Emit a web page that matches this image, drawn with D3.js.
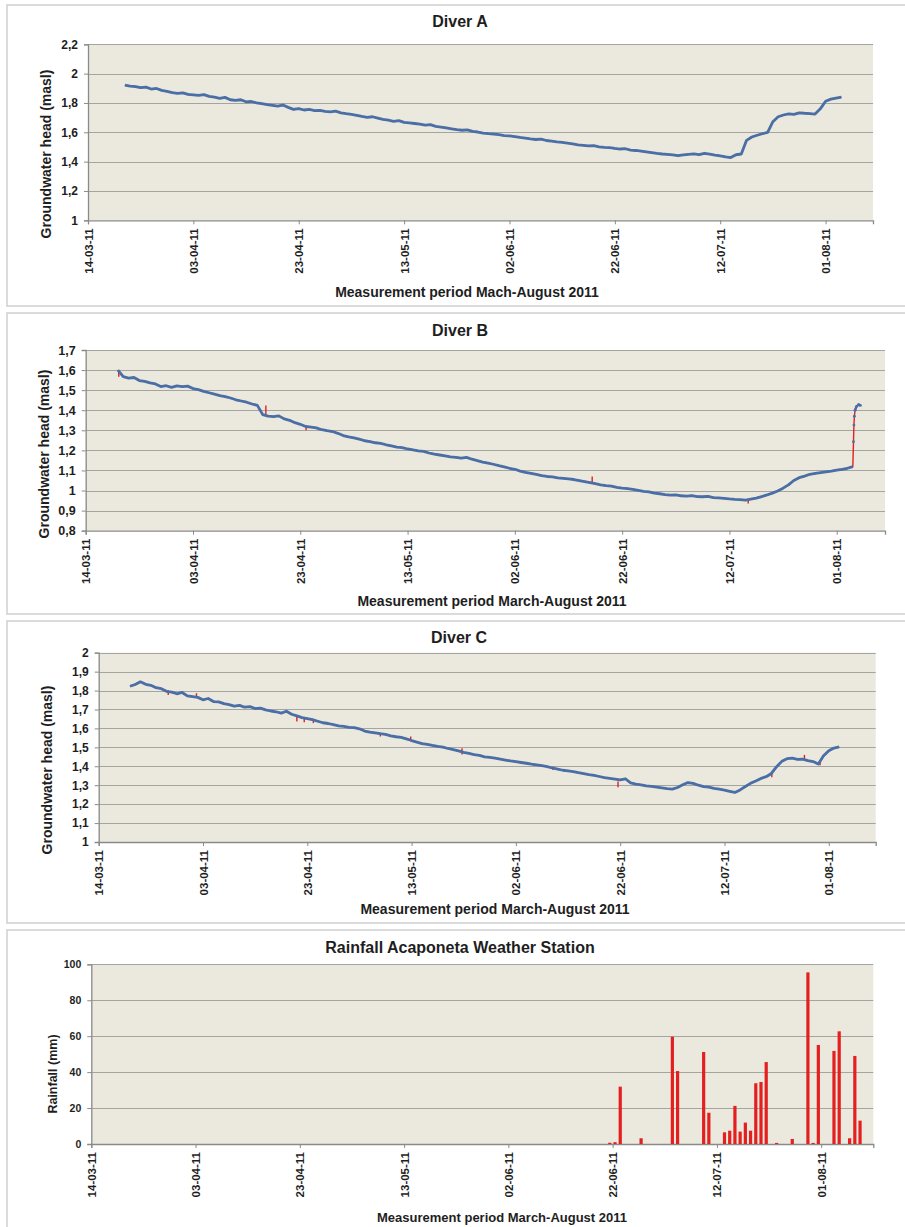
<!DOCTYPE html>
<html><head><meta charset="utf-8">
<script src="https://cdn.jsdelivr.net/npm/d3@7"></script>
<style>
body{margin:0;background:#fff;}
svg text{font-family:"Liberation Sans",Arial,sans-serif;font-weight:bold;fill:#1e1e1e;}
</style></head><body>
<svg id="chart" width="905" height="1227"></svg>
<script>
// ---------------- DATA ----------------
const dateTickLabels = ["14-03-11","03-04-11","23-04-11","13-05-11","02-06-11","22-06-11","12-07-11","01-08-11"];

const diverATicks = [1, 1.2, 1.4, 1.6, 1.8, 2, 2.2];
const diverBTicks = [0.8, 0.9, 1, 1.1, 1.2, 1.3, 1.4, 1.5, 1.6, 1.7];
const diverCTicks = [1, 1.1, 1.2, 1.3, 1.4, 1.5, 1.6, 1.7, 1.8, 1.9, 2];
const rainTicks = [0, 20, 40, 60, 80, 100];

// daily groundwater head (masl), one value per day from the start date
const diverAStart = "21-03-11";
const diverAValues = [
 1.921,1.915,1.912,1.904,1.908,1.895,1.899,1.886,1.879,1.871,1.866,1.869,1.858,1.855,1.852,1.857,
 1.845,1.840,1.832,1.838,1.822,1.818,1.822,1.808,1.810,1.801,1.795,1.789,1.784,1.779,1.786,1.770,
 1.756,1.762,1.752,1.756,1.748,1.750,1.743,1.739,1.744,1.733,1.727,1.722,1.716,1.708,1.702,1.706,
 1.697,1.688,1.683,1.675,1.679,1.668,1.664,1.660,1.655,1.649,1.652,1.640,1.636,1.630,1.624,1.618,
 1.614,1.617,1.606,1.602,1.595,1.591,1.588,1.584,1.577,1.575,1.571,1.565,1.561,1.555,1.551,1.554,
 1.544,1.540,1.535,1.531,1.526,1.521,1.514,1.511,1.507,1.509,1.501,1.497,1.495,1.490,1.486,1.488,
 1.478,1.476,1.471,1.466,1.461,1.456,1.452,1.449,1.446,1.441,1.446,1.450,1.453,1.448,1.457,1.451,
 1.445,1.440,1.433,1.428,1.447,1.452,1.545,1.568,1.580,1.590,1.600,1.672,1.706,1.718,1.726,1.722,
 1.733,1.730,1.728,1.724,1.760,1.812,1.826,1.833,1.840
];
const diverASpikes = [];

const diverBStart = "20-03-11";
const diverBValues = [
 1.600,1.567,1.560,1.563,1.548,1.544,1.536,1.531,1.518,1.522,1.514,1.521,1.518,1.520,1.508,1.503,
 1.494,1.487,1.480,1.473,1.468,1.461,1.452,1.446,1.440,1.431,1.424,1.378,1.371,1.368,1.372,1.357,
 1.350,1.338,1.330,1.319,1.316,1.312,1.303,1.298,1.294,1.285,1.274,1.267,1.262,1.256,1.248,1.244,
 1.238,1.235,1.228,1.222,1.216,1.214,1.207,1.203,1.198,1.195,1.187,1.181,1.177,1.173,1.168,1.165,
 1.161,1.165,1.156,1.149,1.142,1.137,1.131,1.124,1.118,1.111,1.106,1.097,1.090,1.086,1.080,1.074,
 1.070,1.068,1.063,1.061,1.058,1.055,1.050,1.045,1.040,1.034,1.028,1.024,1.022,1.016,1.012,1.010,
 1.006,1.001,0.996,0.993,0.987,0.984,0.980,0.977,0.978,0.974,0.972,0.975,0.970,0.969,0.971,0.965,
 0.963,0.961,0.958,0.956,0.955,0.952,0.957,0.962,0.970,0.978,0.987,0.998,1.012,1.028,1.050,1.064,
 1.072,1.081,1.085,1.089,1.093,1.097,1.102,1.106,1.111,1.119
];
// sudden rise at the end of the Diver B record (sub-daily readings)
const diverBJump = [
 ["04-08-11 03",1.243],["04-08-11 05",1.326],["04-08-11 07",1.370],["04-08-11 10",1.400],
 ["04-08-11 16",1.418],["05-08-11 02",1.428],["05-08-11 10",1.424]
];
const diverBSpikes = [
 ["20-03-11 04",1.600,1.567],["16-04-11 14",1.424,1.378],["24-04-11 02",1.318,1.300],
 ["16-06-11 10",1.040,1.070],["15-07-11 12",0.952,0.935]
];

const diverCStart = "20-03-11";
const diverCValues = [
 1.823,1.832,1.846,1.833,1.828,1.815,1.810,1.796,1.792,1.783,1.790,1.772,1.768,1.764,1.751,1.758,
 1.742,1.740,1.731,1.726,1.718,1.722,1.712,1.715,1.705,1.707,1.698,1.692,1.688,1.681,1.691,1.675,
 1.666,1.657,1.652,1.646,1.638,1.630,1.626,1.620,1.614,1.611,1.606,1.604,1.598,1.586,1.580,1.577,
 1.572,1.568,1.561,1.556,1.553,1.545,1.536,1.528,1.520,1.516,1.510,1.505,1.501,1.494,1.488,1.481,
 1.473,1.468,1.462,1.458,1.450,1.447,1.443,1.438,1.433,1.428,1.424,1.420,1.416,1.411,1.407,1.403,
 1.398,1.391,1.385,1.379,1.376,1.372,1.366,1.361,1.356,1.352,1.346,1.340,1.336,1.332,1.328,1.334,
 1.312,1.306,1.302,1.297,1.294,1.290,1.286,1.282,1.279,1.288,1.302,1.314,1.310,1.300,1.293,1.290,
 1.283,1.279,1.274,1.268,1.262,1.275,1.293,1.310,1.322,1.336,1.345,1.362,1.398,1.426,1.440,1.443,
 1.436,1.438,1.430,1.425,1.412,1.455,1.482,1.496,1.502
];
const diverCSpikes = [
 ["27-03-11 08",1.800,1.776],["01-04-11 18",1.786,1.762],["21-04-11 00",1.660,1.636],
 ["22-04-11 10",1.656,1.632],["24-04-11 04",1.650,1.628],["07-05-11 00",1.574,1.557],
 ["12-05-11 20",1.557,1.532],["22-05-11 16",1.495,1.462],["09-06-11 02",1.398,1.380],
 ["21-06-11 14",1.319,1.289],["21-07-11 02",1.370,1.342],["27-07-11 08",1.460,1.432],
 ["30-07-11 08",1.428,1.405]
];

// daily rainfall (mm), Acaponeta weather station
const rainDates = ["21-06-11","22-06-11","23-06-11","27-06-11","03-07-11","04-07-11","09-07-11","10-07-11",
 "13-07-11","14-07-11","15-07-11","16-07-11","17-07-11","18-07-11","19-07-11","20-07-11","21-07-11",
 "23-07-11","26-07-11","29-07-11","30-07-11","31-07-11","03-08-11","04-08-11","06-08-11","07-08-11","08-08-11"];
const rainValues = [0.7,1.0,31.9,3.2,59.7,40.6,51.2,17.4,
 6.5,7.4,21.2,6.9,11.9,7.4,33.8,34.5,45.6,
 0.6,2.8,95.5,0.6,55.1,51.8,62.7,3.2,49.0,13.0];

// ---------------- DRAWING ----------------
const parseDay = d3.utcParse("%d-%m-%y");
const parseHour = d3.utcParse("%d-%m-%y %H");
const fmtComma = v => String(v).replace(".", ",");
const svg = d3.select("#chart");

const BLUE = "#4a6ea6", RED = "#e3201f", BG = "#ebe8de", GRID = "#a4a4a0", AXIS = "#8a8a8a";

function daily(start, values) {
  const s = parseDay(start);
  return values.map((v, i) => ({date: d3.utcDay.offset(s, i), value: v}));
}

const panels = [
  {box:[5,306], plot:{l:88,r:873,t:44.3,b:220.3}, ticks:diverATicks, end:"10-08-11",
   title:"Diver A", titleX:460, titleY:21, xTitle:"Measurement period Mach-August 2011", xTitleX:467, xTitleY:292,
   yTitle:"Groundwater head (masl)", yTitleX:46, yTitleY:154, yFont:12,
   series: daily(diverAStart, diverAValues), spikes: diverASpikes},
  {box:[313,614], plot:{l:85.7,r:885,t:350,b:530.7}, ticks:diverBTicks, end:"10-08-11",
   title:"Diver B", titleX:460, titleY:330, xTitle:"Measurement period March-August 2011", xTitleX:492, xTitleY:601,
   yTitle:"Groundwater head (masl)", yTitleX:44, yTitleY:454, yFont:12.5,
   series: daily(diverBStart, diverBValues), spikes: diverBSpikes,
   jump: diverBJump.map(d => ({date: parseHour(d[0]), value: d[1]}))},
  {box:[621,923], plot:{l:98.7,r:875.7,t:652.7,b:842}, ticks:diverCTicks, end:"10-08-11",
   title:"Diver C", titleX:459, titleY:637, xTitle:"Measurement period March-August 2011", xTitleX:495, xTitleY:909,
   yTitle:"Groundwater head (masl)", yTitleX:47, yTitleY:770, yFont:12,
   series: daily(diverCStart, diverCValues), spikes: diverCSpikes},
  {box:[930,1240], plot:{l:91.3,r:873.3,t:964.3,b:1144}, ticks:rainTicks, end:"11-08-11",
   title:"Rainfall Acaponeta Weather Station", titleX:460, titleY:947, xTitle:"Measurement period March-August 2011", xTitleX:502, xTitleY:1217,
   yTitle:"Rainfall (mm)", yTitleX:53, yTitleY:1074, yFont:10.5, rain:true}
];

panels.forEach(p => {
  const g = svg.append("g");
  g.append("rect").attr("x", 7).attr("y", p.box[0]).attr("width", 930).attr("height", p.box[1]-p.box[0])
    .attr("fill", "#fff").attr("stroke", "#cfcfcf").attr("stroke-width", 1.5);

  const x = d3.scaleUtc().domain([parseDay("14-03-11"), parseDay(p.end)]).range([p.plot.l, p.plot.r]);
  const y = d3.scaleLinear().domain([p.ticks[0], p.ticks[p.ticks.length-1]]).range([p.plot.b, p.plot.t]);

  g.append("rect").attr("x", p.plot.l).attr("y", p.plot.t).attr("width", p.plot.r-p.plot.l)
    .attr("height", p.plot.b-p.plot.t).attr("fill", BG);

  g.append("g").selectAll("line").data(p.ticks.slice(1)).join("line")
    .attr("x1", p.plot.l).attr("x2", p.plot.r)
    .attr("y1", d => Math.round(y(d))+0.5).attr("y2", d => Math.round(y(d))+0.5)
    .attr("stroke", GRID).attr("stroke-width", 1.2);

  const ya = g.append("g").attr("transform", `translate(${p.plot.l},0)`)
    .call(d3.axisLeft(y).tickValues(p.ticks).tickFormat(fmtComma).tickSize(4).tickPadding(6));
  ya.select(".domain").attr("stroke", AXIS).attr("stroke-width", 1.3);
  ya.selectAll(".tick line").attr("stroke", AXIS);
  ya.selectAll(".tick text").attr("font-size", p.yFont).attr("fill", "#1e1e1e");

  const xa = g.append("g").attr("transform", `translate(0,${p.plot.b})`)
    .call(d3.axisBottom(x).tickValues(dateTickLabels.map(parseDay)).tickFormat(d3.utcFormat("%d-%m-%y")).tickSize(4));
  xa.select(".domain").attr("stroke", AXIS).attr("stroke-width", 1.3);
  xa.selectAll(".tick line").attr("stroke", AXIS);
  xa.selectAll(".tick text").attr("font-size", 11.5).attr("fill", "#1e1e1e")
    .attr("transform", "rotate(-90)").attr("text-anchor", "end")
    .attr("x", -8).attr("y", 0).attr("dy", "0.35em");

  g.append("text").attr("x", p.titleX).attr("y", p.titleY).attr("text-anchor", "middle")
    .attr("dominant-baseline", "central").attr("font-size", 16).text(p.title);
  g.append("text").attr("x", p.xTitleX).attr("y", p.xTitleY).attr("text-anchor", "middle")
    .attr("dominant-baseline", "central").attr("font-size", p.rain ? 13 : 14).text(p.xTitle);
  g.append("text").attr("transform", `translate(${p.yTitleX},${p.yTitleY}) rotate(-90)`)
    .attr("text-anchor", "middle").attr("dominant-baseline", "central")
    .attr("font-size", p.rain ? 12.5 : 14).text(p.yTitle);

  if (p.rain) {
    const bw = 3.2;
    const rows = rainDates.map((d, i) => ({date: parseDay(d), value: rainValues[i]}));
    g.append("g").selectAll("rect").data(rows).join("rect")
      .attr("x", d => x(d3.utcHour.offset(d.date, 11)) - bw/2)
      .attr("width", bw)
      .attr("y", d => y(d.value))
      .attr("height", d => y(0) - y(d.value))
      .attr("fill", RED);
    return;
  }

  const line = d3.line().x(d => x(d.date)).y(d => y(d.value));
  const all = p.jump ? p.series.concat(p.jump) : p.series;
  g.append("path").datum(all).attr("d", line).attr("fill", "none")
    .attr("stroke", RED).attr("stroke-width", 1.4);
  g.append("g").selectAll("line").data(p.spikes).join("line")
    .attr("x1", d => x(parseHour(d[0]))).attr("x2", d => x(parseHour(d[0])))
    .attr("y1", d => y(d[1])).attr("y2", d => y(d[2]))
    .attr("stroke", RED).attr("stroke-width", 1.4);
  g.append("path").datum(p.series).attr("d", line).attr("fill", "none")
    .attr("stroke", BLUE).attr("stroke-width", 2.8).attr("stroke-linejoin", "round");
  if (p.jump) {
    g.append("path").datum(p.jump.slice(3)).attr("d", line).attr("fill", "none")
      .attr("stroke", BLUE).attr("stroke-width", 2.4);
    g.append("g").selectAll("circle").data(p.jump).join("circle")
      .attr("cx", d => x(d.date)).attr("cy", d => y(d.value)).attr("r", 1.4).attr("fill", BLUE);
  }
});
</script>
</body></html>
